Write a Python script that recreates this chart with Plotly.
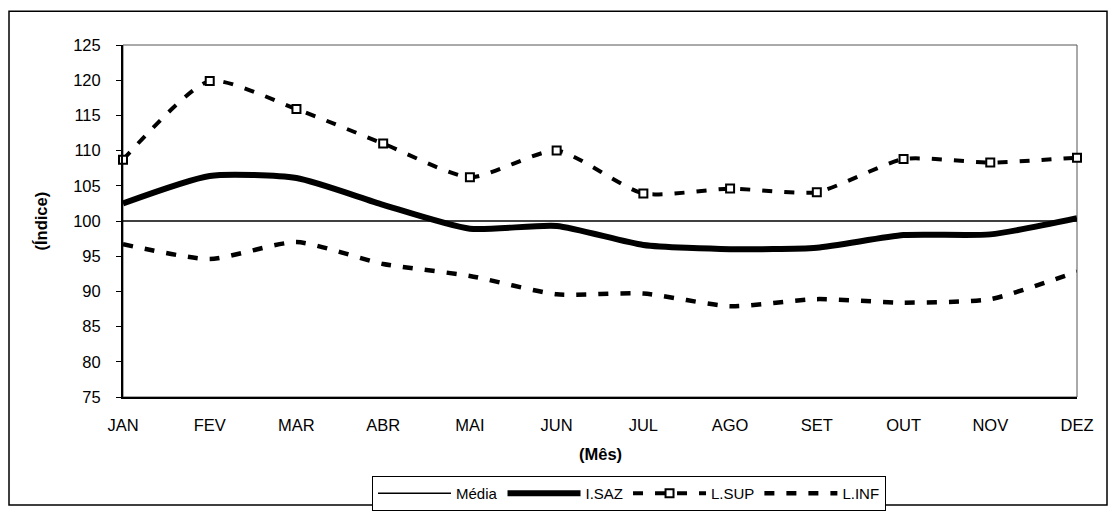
import plotly.graph_objects as go

meses = ["JAN", "FEV", "MAR", "ABR", "MAI", "JUN", "JUL", "AGO", "SET", "OUT", "NOV", "DEZ"]
media = [100] * 12
i_saz = [102.5, 106.4, 106.1, 102.3, 98.9, 99.3, 96.6, 96.0, 96.2, 98.0, 98.1, 100.4]
l_sup = [108.7, 119.9, 115.9, 111.0, 106.2, 110.0, 103.9, 104.6, 104.1, 108.8, 108.3, 109.0]
l_inf = [96.7, 94.6, 97.0, 93.9, 92.2, 89.6, 89.7, 87.9, 88.9, 88.4, 88.9, 92.8]

y_ticks = list(range(75, 126, 5))
xs = list(range(len(meses)))

FONT = "Liberation Sans, Arial, sans-serif"

fig = go.Figure()
fig.add_trace(go.Scatter(x=xs, y=media, name="Média", mode="lines",
                         line=dict(color="black", width=1.5), cliponaxis=False))
fig.add_trace(go.Scatter(x=xs, y=i_saz, name="I.SAZ", mode="lines",
                         line=dict(color="black", width=6, shape="spline", smoothing=0.6),
                         cliponaxis=False))
fig.add_trace(go.Scatter(x=xs, y=l_sup, name="L.SUP", mode="lines+markers",
                         line=dict(color="black", width=4, dash="10px,12px", shape="spline", smoothing=0.6),
                         marker=dict(symbol="square", size=8, color="white",
                                     line=dict(color="black", width=2)),
                         cliponaxis=False))
fig.add_trace(go.Scatter(x=xs, y=l_inf, name="L.INF", mode="lines",
                         line=dict(color="black", width=4.5, dash="10px,12px", shape="spline", smoothing=0.6),
                         cliponaxis=False))

# page body has an 8px margin: figure origin sits at window (8, 8);
# keep the whole page inside the 1116x531 window
OFF = 8
W, H = 1116 - 2 * OFF, 531 - 2 * OFF
L = 123 - OFF
T = 45 - OFF
R = W - (1077 - OFF)
B = H - (410 - OFF)
pw, ph = W - L - R, H - T - B


def px_x(p):
    return (p - OFF - L) / pw


def px_y(p):
    return (H - B - (p - OFF)) / ph


fig.update_layout(
    width=W, height=H,
    margin=dict(l=L, r=R, t=T, b=B, pad=0),
    paper_bgcolor="white", plot_bgcolor="white",
    font=dict(family=FONT, color="black", size=16),
    showlegend=True,
    legend=dict(orientation="h", x=px_x(629), xanchor="center", y=px_y(492), yanchor="top",
                bordercolor="black", borderwidth=1, bgcolor="white",
                font=dict(size=15, family=FONT), itemwidth=73, tracegroupgap=0),
    xaxis=dict(range=[0, 11], tickmode="array", tickvals=xs, ticktext=meses,
               showgrid=False, zeroline=False, showline=True, linecolor="black", linewidth=1.5,
               ticks="", ticklabelstandoff=12, tickfont=dict(size=16.5)),
    yaxis=dict(range=[75, 125], tickmode="array", tickvals=y_ticks,
               showgrid=False, zeroline=False, showline=True, linecolor="black", linewidth=2,
               ticks="outside", ticklen=5, tickcolor="black", tickwidth=1,
               ticklabelstandoff=12, tickfont=dict(size=16.5)),
    shapes=[
        dict(type="rect", xref="paper", yref="paper", x0=0, x1=1, y0=0, y1=1,
             line=dict(color="#555555", width=1), layer="below"),
        dict(type="rect", xref="paper", yref="paper",
             x0=px_x(9), x1=px_x(1107), y0=px_y(522), y1=px_y(10),
             line=dict(color="black", width=1.5), layer="below"),
    ],
    annotations=[
        dict(text="<b>(Índice)</b>", xref="paper", yref="paper", x=px_x(41), y=px_y(228),
             showarrow=False, textangle=-90, font=dict(size=16.5), xanchor="center", yanchor="middle"),
        dict(text="<b>(Mês)</b>", xref="paper", yref="paper", x=px_x(600), y=px_y(469),
             showarrow=False, font=dict(size=16.5), xanchor="center", yanchor="middle"),
    ],
)

fig.write_html("out.html")
